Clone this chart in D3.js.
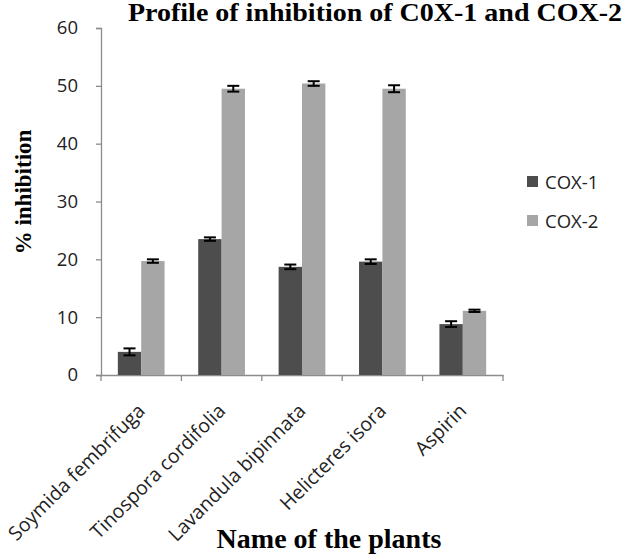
<!DOCTYPE html>
<html><head><meta charset="utf-8">
<script src="https://cdn.jsdelivr.net/npm/d3@7"></script>
<style>body{margin:0;background:#fff}</style>
</head><body>
<svg id="c" width="624" height="556"></svg>
<script>
const categories = ["Soymida fembrifuga","Tinospora cordifolia","Lavandula bipinnata","Helicteres isora","Aspirin"];
const seriesNames = ["COX-1","COX-2"];
const cox1 = [4.0, 23.5, 18.7, 19.6, 8.8];
const cox2 = [19.7, 49.5, 50.4, 49.5, 11.1];
const cox1Err = [0.6, 0.3, 0.4, 0.4, 0.5];
const cox2Err = [0.3, 0.5, 0.4, 0.6, 0.2];
const yTicks = [0,10,20,30,40,50,60];
const colors = ["#4d4d4d","#a6a6a6"];

const svg = d3.select("#c");
const m = {left:101, right:503, top:28, bottom:375};
const x = d3.scaleBand().domain(categories).range([m.left, m.right]).paddingInner(0).paddingOuter(0);
const xs = d3.scaleBand().domain(seriesNames).range([0, x.bandwidth()]).paddingInner(0).paddingOuter(0.72);
const y = d3.scaleLinear().domain([0,60]).range([m.bottom, m.top]);

const data = categories.map((c,i)=>({c, vals:[{s:"COX-1",v:cox1[i],e:cox1Err[i]},{s:"COX-2",v:cox2[i],e:cox2Err[i]}]}));
const sans = "Open Sans, Liberation Sans, sans-serif";
const serif = "Liberation Serif, Times New Roman, serif";

// axes
const yAxis = d3.axisLeft(y).tickValues(yTicks).tickSize(5).tickPadding(18);
const gy = svg.append("g").attr("transform",`translate(${m.left},0)`).call(yAxis);
gy.select(".domain").attr("stroke","#8c8c8c").attr("stroke-width",1.3);
gy.selectAll(".tick line").attr("stroke","#8c8c8c").attr("stroke-width",1.3);
gy.selectAll("text").attr("font-family",sans).attr("font-size",18.5).attr("fill","#222");

const xAxis = d3.axisBottom(x).tickSize(0).tickFormat("");
const gx = svg.append("g").attr("transform",`translate(0,${m.bottom})`).call(xAxis);
gx.select(".domain").attr("stroke","#8c8c8c").attr("stroke-width",1.3);
const bounds = categories.map(c=>x(c)).concat([m.right]);
gx.selectAll(".bt").data(bounds).enter().append("line")
  .attr("x1",d=>d).attr("x2",d=>d).attr("y1",0).attr("y2",6)
  .attr("stroke","#8c8c8c").attr("stroke-width",1.3);

// bars
const groups = svg.selectAll(".grp").data(data).enter().append("g")
  .attr("transform",d=>`translate(${x(d.c)},0)`);
groups.selectAll("rect").data(d=>d.vals).enter().append("rect")
  .attr("x",d=>xs(d.s)).attr("width",xs.bandwidth())
  .attr("y",d=>y(d.v)).attr("height",d=>y(0)-y(d.v))
  .attr("fill",(d,i)=>colors[i]);
// error bars
const eb = groups.selectAll(".eb").data(d=>d.vals).enter().append("g");
eb.append("line").attr("x1",d=>xs(d.s)+xs.bandwidth()/2).attr("x2",d=>xs(d.s)+xs.bandwidth()/2)
  .attr("y1",d=>y(d.v-d.e)).attr("y2",d=>y(d.v+d.e)).attr("stroke","#000").attr("stroke-width",2);
[-1,1].forEach(sg=>{
  eb.append("line").attr("x1",d=>xs(d.s)+xs.bandwidth()/2-6).attr("x2",d=>xs(d.s)+xs.bandwidth()/2+6)
    .attr("y1",d=>y(d.v+sg*d.e)).attr("y2",d=>y(d.v+sg*d.e)).attr("stroke","#000").attr("stroke-width",2);
});

// x labels
svg.selectAll(".xl").data(categories).enter().append("text")
  .attr("transform",d=>`translate(${x(d)+x.bandwidth()/2+5},${m.bottom+37}) rotate(-45)`)
  .attr("text-anchor","end")
  .attr("font-family",sans).attr("font-size",19.5).attr("fill","#222")
  .text(d=>d);

// title
svg.append("text").attr("x",128).attr("y",21)
  .attr("font-family",serif).attr("font-weight","bold").attr("font-size",25)
  .attr("textLength",494).attr("lengthAdjust","spacingAndGlyphs")
  .text("Profile of inhibition of C0X-1 and COX-2");
// y title
svg.append("text").attr("transform","translate(31,192) rotate(-90)").attr("text-anchor","middle")
  .attr("font-family",serif).attr("font-weight","bold").attr("font-size",23)
  .text("% inhibition");
// x title
svg.append("text").attr("x",329).attr("y",548).attr("text-anchor","middle")
  .attr("font-family",serif).attr("font-weight","bold").attr("font-size",28)
  .text("Name of the plants");

// legend
const lg = svg.selectAll(".lg").data(seriesNames).enter().append("g")
  .attr("transform",(d,i)=>`translate(527,${176+i*39})`);
lg.append("rect").attr("width",11).attr("height",11).attr("fill",(d,i)=>colors[i]);
lg.append("text").attr("x",18).attr("y",12.5).attr("font-family",sans)
  .attr("font-size",18.5).attr("fill","#222").text(d=>d);
</script>
</body></html>
